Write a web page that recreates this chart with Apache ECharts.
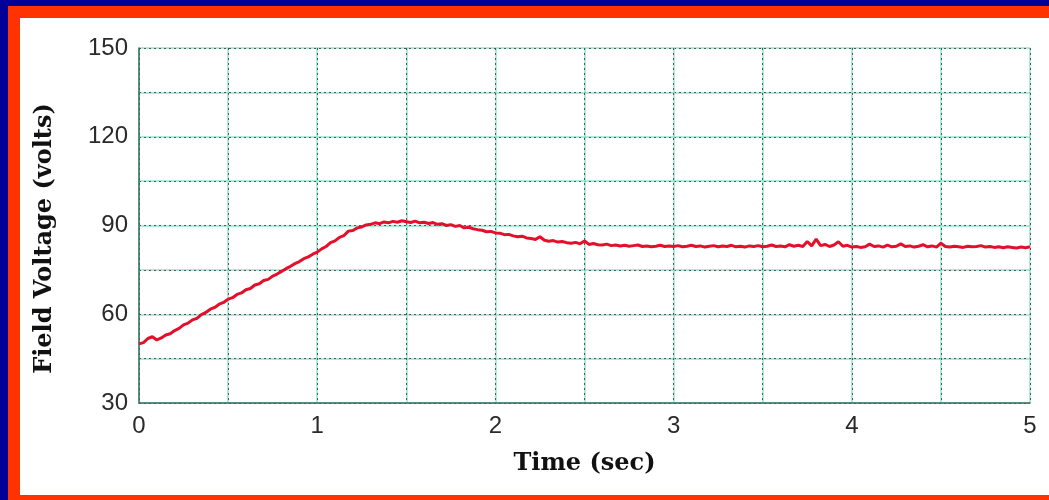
<!DOCTYPE html>
<html>
<head>
<meta charset="utf-8">
<script src="https://cdn.jsdelivr.net/npm/echarts@6/dist/echarts.min.js"></script>
<style>
  html, body { margin: 0; padding: 0; width: 1049px; height: 500px; overflow: hidden; background: #000096; }
  #frame { position: absolute; left: 8px; top: 6px; width: 1041px; height: 494px; background: #ff3300; }
  #paper { position: absolute; left: 20px; top: 18px; width: 1029px; height: 477px; background: #ffffff; }
  #chart { position: absolute; left: 0; top: 0; width: 1049px; height: 500px; }
</style>
</head>
<body>
<div id="frame"></div>
<div id="paper"></div>
<div id="chart"></div>
<script>
// Tick labels
const xTickLabels = [0, 1, 2, 3, 4, 5];
const yTickLabels = [30, 60, 90, 120, 150];

// Sample times (sec)
const timeSec = [
  0.000,0.025,0.050,0.075,0.100,0.125,0.150,0.175,0.200,0.225,0.250,0.275,0.300,0.325,0.350,0.375,0.400,0.425,0.450,0.475,
  0.500,0.525,0.550,0.575,0.600,0.625,0.650,0.675,0.700,0.725,0.750,0.775,0.800,0.825,0.850,0.875,0.900,0.925,0.950,0.975,
  1.000,1.025,1.050,1.075,1.100,1.125,1.150,1.175,1.200,1.225,1.250,1.275,1.300,1.325,1.350,1.375,1.400,1.425,1.450,1.475,
  1.500,1.525,1.550,1.575,1.600,1.625,1.650,1.675,1.700,1.725,1.750,1.775,1.800,1.825,1.850,1.875,1.900,1.925,1.950,1.975,
  2.000,2.025,2.050,2.075,2.100,2.125,2.150,2.175,2.200,2.225,2.250,2.275,2.300,2.325,2.350,2.375,2.400,2.425,2.450,2.475,
  2.500,2.525,2.550,2.575,2.600,2.625,2.650,2.675,2.700,2.725,2.750,2.775,2.800,2.825,2.850,2.875,2.900,2.925,2.950,2.975,
  3.000,3.025,3.050,3.075,3.100,3.125,3.150,3.175,3.200,3.225,3.250,3.275,3.300,3.325,3.350,3.375,3.400,3.425,3.450,3.475,
  3.500,3.525,3.550,3.575,3.600,3.625,3.650,3.675,3.700,3.725,3.750,3.775,3.800,3.825,3.850,3.875,3.900,3.925,3.950,3.975,
  4.000,4.025,4.050,4.075,4.100,4.125,4.150,4.175,4.200,4.225,4.250,4.275,4.300,4.325,4.350,4.375,4.400,4.425,4.450,4.475,
  4.500,4.525,4.550,4.575,4.600,4.625,4.650,4.675,4.700,4.725,4.750,4.775,4.800,4.825,4.850,4.875,4.900,4.925,4.950,4.975,
  5.000
];

// Field voltage (volts)
const fieldVoltage = [
  50.0,50.4,51.8,52.4,51.3,52.0,53.0,53.4,54.5,55.2,56.4,57.0,58.1,58.6,59.9,60.6,61.7,62.3,63.4,64.0,
  65.1,65.6,66.7,67.2,68.3,68.7,69.9,70.3,71.4,71.8,72.9,73.6,74.5,75.4,76.2,77.1,77.8,78.8,79.4,80.3,
  81.0,82.1,82.9,84.2,84.8,86.0,86.6,88.1,88.3,89.2,89.5,90.2,90.4,90.9,90.6,91.2,90.9,91.4,91.1,91.6,
  91.3,91.0,91.5,90.9,91.1,90.7,91.0,90.4,90.6,90.0,90.3,89.7,90.0,89.2,89.4,88.9,88.6,88.4,87.9,88.0,
  87.5,87.4,86.9,87.0,86.5,86.2,86.4,85.8,85.6,85.3,86.2,85.0,84.7,84.9,84.4,84.6,84.2,84.0,84.3,83.8,
  84.8,83.6,83.9,83.5,83.4,83.7,83.2,83.4,83.1,83.3,83.0,83.2,83.4,82.9,83.1,82.8,83.0,83.3,82.9,83.1,
  82.9,83.2,82.8,83.0,83.3,82.9,83.1,82.7,83.0,83.2,82.8,83.1,82.9,83.3,82.8,83.0,82.7,83.1,82.9,83.2,
  82.8,83.0,83.4,82.9,83.1,82.8,83.5,83.0,83.3,82.9,84.6,83.1,85.4,83.2,83.6,82.9,83.4,84.5,83.0,83.3,
  82.7,82.9,82.6,82.8,83.7,82.9,83.1,82.7,83.4,82.8,83.0,83.8,82.9,83.1,82.7,83.0,83.5,82.8,83.1,82.7,
  84.0,82.9,82.7,83.0,82.8,82.6,83.0,82.8,82.9,83.2,82.7,82.9,82.6,82.8,82.5,82.8,82.6,82.4,82.7,82.5,
  82.8
];

const seriesData = timeSec.map((t, i) => [t, fieldVoltage[i]]);

const chart = echarts.init(document.getElementById('chart'), null, { renderer: 'canvas' });

const tickFont = { fontFamily: 'Liberation Sans', fontSize: 24, color: '#2a2a2a' };
const nameFont = { fontFamily: 'DejaVu Serif', fontWeight: 'bold', fontSize: 24, color: '#111111' };

chart.setOption({
  backgroundColor: 'transparent',
  animation: false,
  grid: { left: 139, right: 19, top: 48, bottom: 97, containLabel: false },
  xAxis: [
    {
      type: 'value', min: 0, max: 5, interval: 0.5, position: 'bottom',
      name: 'Time (sec)', nameLocation: 'middle', nameGap: 49, nameTextStyle: nameFont,
      axisLine: { show: true, lineStyle: { color: '#3d6e60', width: 1.5 } },
      axisTick: { show: false },
      axisLabel: Object.assign({ margin: 11, formatter: v => xTickLabels.includes(v) ? String(v) : '' }, tickFont),
      splitLine: { show: true, lineStyle: { color: '#8fe6cf', width: 1.5 } }
    },
    {
      type: 'value', min: 0, max: 5, interval: 0.5, position: 'top',
      axisLine: { show: false }, axisTick: { show: false }, axisLabel: { show: false },
      splitLine: { show: true, lineStyle: { color: '#555555', width: 1, type: [2, 3] } }
    }
  ],
  yAxis: [
    {
      type: 'value', min: 30, max: 150, interval: 15, position: 'left',
      name: 'Field Voltage (volts)', nameLocation: 'middle', nameGap: 82,
      nameTextStyle: Object.assign({ padding: [0, 26, 0, 0] }, nameFont),
      axisLine: { show: true, lineStyle: { color: '#3d6e60', width: 1.5 } },
      axisTick: { show: false },
      axisLabel: Object.assign({ margin: 11, formatter: v => yTickLabels.includes(v) ? String(v) : '' }, tickFont),
      splitLine: { show: true, lineStyle: { color: '#8fe6cf', width: 1.5 } }
    },
    {
      type: 'value', min: 30, max: 150, interval: 15, position: 'right',
      axisLine: { show: false }, axisTick: { show: false }, axisLabel: { show: false },
      splitLine: { show: true, lineStyle: { color: '#555555', width: 1, type: [2, 3] } }
    }
  ],
  series: [
    {
      type: 'line', xAxisIndex: 0, yAxisIndex: 0,
      data: seriesData,
      showSymbol: false,
      lineStyle: { color: '#e3102c', width: 3 },
      z: 5
    }
  ]
});
</script>
</body>
</html>
